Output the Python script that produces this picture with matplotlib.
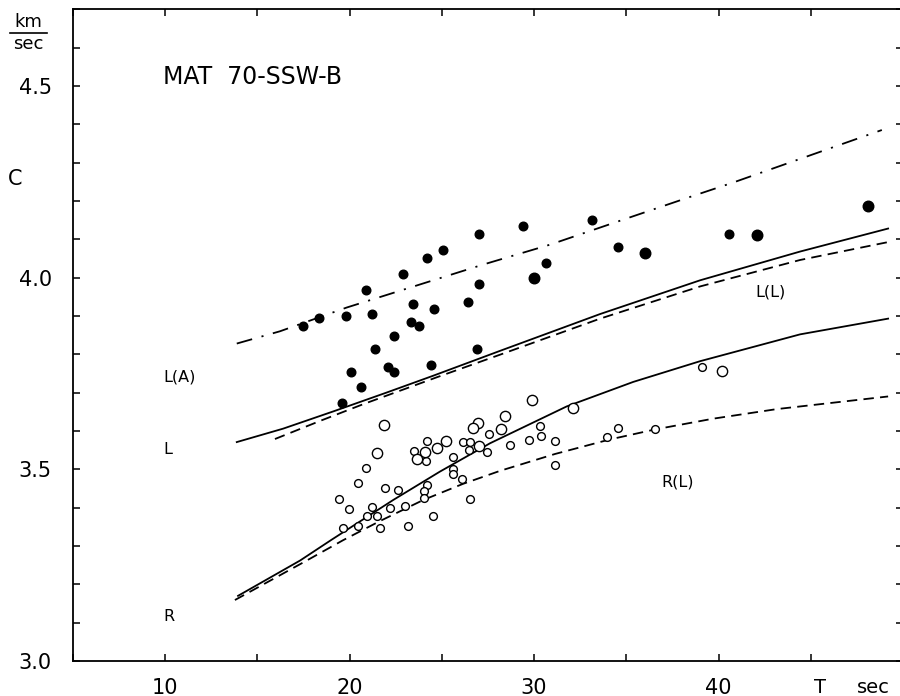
import numpy as np
import matplotlib
matplotlib.use("Agg")
import matplotlib.pyplot as plt

# Phase velocity c (km/sec) against period T (sec)

# measured points, filled = Love, open = Rayleigh (split by symbol size)
filled_small_T = [17.46, 18.36, 19.79, 20.88, 21.20, 22.92, 24.18, 25.08, 27.00, 29.42,
                  23.43, 24.58, 23.35, 23.78, 22.41, 21.40, 20.10, 20.61, 19.61, 22.07,
                  22.43, 24.42, 26.41, 27.04, 26.91, 30.65, 33.13, 34.57, 40.57]
filled_small_C = [3.873, 3.894, 3.899, 3.969, 3.904, 4.009, 4.051, 4.072, 4.114, 4.135,
                  3.931, 3.917, 3.883, 3.875, 3.847, 3.815, 3.753, 3.715, 3.672, 3.768,
                  3.754, 3.771, 3.937, 3.984, 3.813, 4.038, 4.151, 4.079, 4.115]
filled_large_T = [29.98, 36.02, 42.07, 48.09]
filled_large_C = [3.998, 4.063, 4.112, 4.188]

open_small_T = [20.91, 20.44, 19.45, 19.97, 19.63, 20.44, 20.93, 21.24, 21.51, 21.65,
                22.20, 21.94, 22.64, 22.99, 23.19, 24.53, 23.50, 24.18, 24.15, 24.18,
                24.05, 24.04, 27.58, 26.14, 26.53, 26.49, 27.45, 28.72, 30.33, 30.38,
                29.75, 31.12, 31.12, 25.59, 25.59, 25.59, 26.11, 26.53, 33.97, 34.57,
                36.56, 39.12]
open_small_C = [3.504, 3.465, 3.422, 3.396, 3.346, 3.353, 3.378, 3.401, 3.379, 3.347,
                3.399, 3.450, 3.445, 3.405, 3.352, 3.379, 3.549, 3.573, 3.522, 3.459,
                3.444, 3.426, 3.591, 3.572, 3.570, 3.551, 3.544, 3.563, 3.614, 3.586,
                3.577, 3.574, 3.511, 3.532, 3.502, 3.488, 3.475, 3.423, 3.584, 3.608,
                3.606, 3.766]
open_large_T = [21.89, 21.49, 24.11, 23.66, 24.74, 25.23, 28.41, 26.98, 26.69, 28.21,
                27.04, 29.91, 32.13, 40.21]
open_large_C = [3.616, 3.542, 3.546, 3.527, 3.556, 3.573, 3.640, 3.622, 3.608, 3.606,
                3.561, 3.681, 3.660, 3.757]

# theoretical curves
L_T = [13.89, 16.40, 19.12, 22.00, 24.53, 28.16, 30.87, 33.58, 39.00, 44.42, 49.19]
L_C = [3.571, 3.606, 3.651, 3.700, 3.744, 3.809, 3.857, 3.905, 3.993, 4.068, 4.128]
LL_T = [15.96, 18.50, 20.75, 24.73, 28.16, 33.58, 39.00, 44.42, 49.12]
LL_C = [3.579, 3.628, 3.670, 3.740, 3.799, 3.893, 3.977, 4.046, 4.092]
R_T = [13.96, 17.32, 19.02, 22.37, 24.90, 27.62, 31.77, 35.38, 39.00, 44.42, 49.19]
R_C = [3.170, 3.262, 3.316, 3.420, 3.494, 3.568, 3.664, 3.728, 3.782, 3.852, 3.893]
RL_T = [13.79, 17.68, 19.65, 21.65, 24.00, 26.15, 28.16, 31.14, 34.12, 36.56, 39.70, 43.15, 49.19]
RL_C = [3.159, 3.262, 3.315, 3.365, 3.420, 3.462, 3.496, 3.540, 3.578, 3.604, 3.632, 3.657, 3.690]
LA_T = [13.89, 16.23, 19.85, 27.24, 30.87, 35.37, 38.55, 40.79, 48.85]
LA_C = [3.828, 3.860, 3.922, 4.034, 4.086, 4.160, 4.212, 4.248, 4.385]

x_ticks = [5, 10, 15, 20, 25, 30, 35, 40, 45, 50]
x_labels = ["", "10", "", "20", "", "30", "", "40", "", ""]
y_ticks = np.round(np.arange(3.0, 4.71, 0.1), 1)
y_labels = [("%.1f" % v) if v in (3.0, 3.5, 4.0, 4.5) else "" for v in y_ticks]

plt.rcParams["font.family"] = "DejaVu Sans"
plt.rcParams["lines.scale_dashes"] = False

fig = plt.figure(figsize=(9, 6.96), dpi=100)
ax = fig.add_axes([0.0808, 0.0503, 0.9226, 0.9364])

lw = 1.3
ax.plot(L_T, L_C, color="black", lw=lw)
ax.plot(LL_T, LL_C, color="black", lw=lw, dashes=(7.5, 4.5))
ax.plot(R_T, R_C, color="black", lw=lw)
ax.plot(RL_T, RL_C, color="black", lw=lw, dashes=(7.5, 4.5))
ax.plot(LA_T, LA_C, color="black", lw=lw, dashes=(11.5, 7, 1.5, 7))

# data points
ax.plot(filled_small_T, filled_small_C, "o", color="black", ms=6.2, ls="none")
ax.plot(filled_large_T, filled_large_C, "o", color="black", ms=7.6, ls="none")
ax.plot(open_small_T, open_small_C, "o", mfc="white", mec="black", mew=1.0, ms=5.6, ls="none")
ax.plot(open_large_T, open_large_C, "o", mfc="white", mec="black", mew=1.0, ms=7.4, ls="none")

ax.set_xlim(5, 50)
ax.set_ylim(3.0, 4.70)
ax.set_xticks(x_ticks)
ax.set_xticklabels(x_labels)
ax.set_yticks(y_ticks)
ax.set_yticklabels(y_labels)
ax.tick_params(direction="in", length=5, width=1.1, labelsize=15,
               top=True, right=True)
ax.tick_params(axis="x", pad=12)
ax.tick_params(axis="y", pad=15)
for s in ax.spines.values():
    s.set_linewidth(1.3)

# curve labels
lab = dict(fontsize=11.5, color="black", va="center")
ax.text(9.9, 3.742, "L(A)", **lab)
ax.text(9.9, 3.551, "L", **lab)
ax.text(9.9, 3.115, "R", **lab)
ax.text(41.98, 3.963, "L(L)", **lab)
ax.text(36.92, 3.468, "R(L)", **lab)
ax.text(9.9, 4.522, "MAT  70-SSW-B", fontsize=17, va="center")

# axis captions
ax.text(45.5, -0.040, "T", transform=ax.get_xaxis_transform(), fontsize=14,
        ha="center", va="center")
ax.text(47.5, -0.040, "sec", transform=ax.get_xaxis_transform(), fontsize=14,
        ha="left", va="center")
fig.text(28 / 900, 1 - 22 / 696, "km", fontsize=13, ha="center", va="center")
fig.text(28 / 900, 1 - 44 / 696, "sec", fontsize=13, ha="center", va="center")
fig.add_artist(plt.Line2D([10 / 900, 47 / 900], [1 - 33 / 696, 1 - 33 / 696],
                          color="black", lw=1.2))
fig.text(15 / 900, 1 - 179 / 696, "C", fontsize=15, ha="center", va="center")

fig.savefig("out.png", dpi=100)
